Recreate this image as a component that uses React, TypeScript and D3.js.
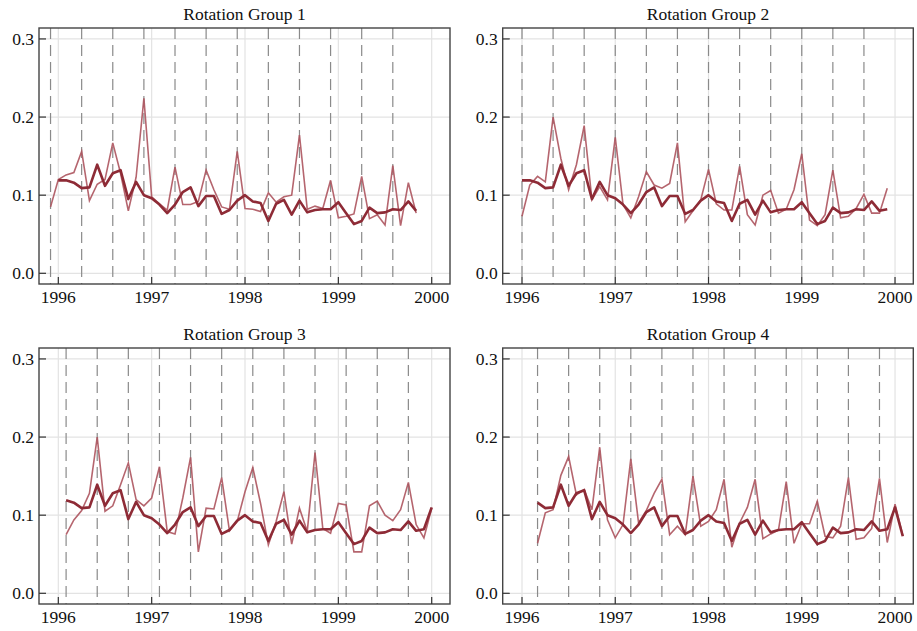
import React from 'react';
import * as d3 from 'd3';

// Months are counted from January 1996 (0 = Jan 1996, -1 = Dec 1995)
const groupNames = ['Rotation Group 1', 'Rotation Group 2', 'Rotation Group 3', 'Rotation Group 4'];
const groupStartMonth = [-1, 0, 1, 2];

// All groups combined, Jan 1996 .. Feb 2000
const allGroups = [
  0.119, 0.119, 0.116, 0.109, 0.110, 0.139, 0.112, 0.128, 0.132, 0.095, 0.117, 0.100,
  0.096, 0.088, 0.077, 0.088, 0.104, 0.110, 0.086, 0.099, 0.099, 0.076, 0.081, 0.093,
  0.100, 0.092, 0.090, 0.067, 0.089, 0.094, 0.075, 0.093, 0.078, 0.081, 0.082, 0.082,
  0.091, 0.077, 0.063, 0.067, 0.084, 0.077, 0.078, 0.082, 0.081, 0.092, 0.080, 0.082,
  0.110, 0.073,
];

// Each rotation group, 48 months from its start month
const group1 = [
  0.085, 0.120, 0.126, 0.129, 0.156, 0.093, 0.114, 0.120, 0.167, 0.128, 0.080, 0.123,
  0.224, 0.098, 0.089, 0.081, 0.136, 0.088, 0.088, 0.092, 0.132, 0.107, 0.085, 0.082,
  0.156, 0.083, 0.082, 0.079, 0.103, 0.091, 0.098, 0.100, 0.177, 0.082, 0.086, 0.083,
  0.119, 0.071, 0.073, 0.076, 0.124, 0.070, 0.075, 0.062, 0.138, 0.061, 0.116, 0.077,
];
const group2 = [
  0.073, 0.113, 0.124, 0.117, 0.200, 0.147, 0.107, 0.139, 0.189, 0.094, 0.111, 0.094,
  0.174, 0.088, 0.071, 0.098, 0.130, 0.113, 0.109, 0.115, 0.167, 0.066, 0.080, 0.094,
  0.133, 0.089, 0.081, 0.081, 0.137, 0.075, 0.062, 0.100, 0.106, 0.077, 0.082, 0.107,
  0.153, 0.068, 0.061, 0.075, 0.132, 0.071, 0.073, 0.083, 0.101, 0.077, 0.077, 0.109,
];
const group3 = [
  0.075, 0.094, 0.106, 0.128, 0.200, 0.105, 0.112, 0.139, 0.167, 0.120, 0.112, 0.122,
  0.162, 0.079, 0.076, 0.122, 0.174, 0.053, 0.109, 0.108, 0.148, 0.080, 0.092, 0.130,
  0.161, 0.115, 0.062, 0.092, 0.130, 0.063, 0.109, 0.079, 0.180, 0.083, 0.077, 0.115,
  0.113, 0.053, 0.053, 0.112, 0.118, 0.100, 0.093, 0.107, 0.142, 0.088, 0.071, 0.109,
];
const group4 = [
  0.064, 0.103, 0.107, 0.151, 0.175, 0.126, 0.133, 0.107, 0.187, 0.094, 0.071, 0.088,
  0.172, 0.090, 0.106, 0.128, 0.146, 0.075, 0.086, 0.075, 0.150, 0.086, 0.092, 0.107,
  0.146, 0.059, 0.090, 0.110, 0.146, 0.070, 0.076, 0.081, 0.143, 0.064, 0.089, 0.089,
  0.118, 0.073, 0.071, 0.086, 0.148, 0.069, 0.071, 0.083, 0.147, 0.065, 0.114, 0.074,
];
const groupValues = [group1, group2, group3, group4];

const yearTicks = [1996, 1997, 1998, 1999, 2000];
const valueTicks = [0.0, 0.1, 0.2, 0.3];

const W = 917;
const H = 631;
const font = '"Liberation Serif", "DejaVu Serif", serif';
const fontSize = 17.5;
const thickColor = '#8e2b36';
const thinColor = '#ad545e';

// plot boxes for the 2x2 grid
const frames = [
  { left: 39, right: 450, top: 28, bottom: 284 },
  { left: 502.7, right: 913.3, top: 28, bottom: 284 },
  { left: 39, right: 450, top: 348, bottom: 604 },
  { left: 502.7, right: 913.3, top: 348, bottom: 604 },
];

const toYear = (m: number) => 1996 + m / 12;

function Panel({ idx }: { idx: number }) {
  const f = frames[idx];
  const start = groupStartMonth[idx];
  const vals = groupValues[idx];

  const x = d3.scaleLinear().domain([1995.793, 2000.196]).range([f.left, f.right]);
  const y = d3.scaleLinear().domain([-0.0137, 0.314]).range([f.bottom, f.top]);

  const groupPts = vals.map((v, i) => ({ t: toYear(start + i), v }));
  const allPts = allGroups
    .map((v, i) => ({ t: toYear(i), m: i, v }))
    .filter(d => d.m >= start && d.m <= start + vals.length - 1);

  const line = d3.line<{ t: number; v: number }>().x(d => x(d.t)).y(d => y(d.v));

  // months when the group is interviewed (every 4 months)
  const dashMonths = d3.range(start, start + vals.length, 4);

  return (
    <g>
      <text x={(f.left + f.right) / 2} y={f.top - 8} textAnchor="middle"
        fontFamily={font} fontSize={fontSize} fill="#111">{groupNames[idx]}</text>

      {/* grid */}
      {valueTicks.map(v => (
        <line key={'gy' + v} x1={f.left} x2={f.right} y1={y(v)} y2={y(v)} stroke="#e3e3e3" strokeWidth={1.2} />
      ))}
      {yearTicks.map(t => (
        <line key={'gx' + t} x1={x(t)} x2={x(t)} y1={f.top} y2={f.bottom} stroke="#e3e3e3" strokeWidth={1.2} />
      ))}

      {/* dashed markers */}
      {dashMonths.map(m => (
        <line key={'d' + m} x1={x(toYear(m))} x2={x(toYear(m))} y1={f.top} y2={f.bottom}
          stroke="#8a8a8a" strokeWidth={1.2} strokeDasharray="11,6" />
      ))}

      <path d={line(groupPts) || ''} fill="none" stroke={thinColor} strokeWidth={1.6} strokeOpacity={0.9} />
      <path d={line(allPts) || ''} fill="none" stroke={thickColor} strokeWidth={2.6} strokeLinejoin="round" />

      {/* frame and ticks */}
      <rect x={f.left} y={f.top} width={f.right - f.left} height={f.bottom - f.top}
        fill="none" stroke="#444" strokeWidth={1.4} />
      {valueTicks.map(v => (
        <g key={'ty' + v}>
          <line x1={f.left} x2={f.left + 7} y1={y(v)} y2={y(v)} stroke="#333" strokeWidth={1.2} />
          <text x={f.left - 5} y={y(v)} dy="0.35em" textAnchor="end" fontFamily={font} fontSize={fontSize} fill="#111">
            {d3.format('.1f')(v)}
          </text>
        </g>
      ))}
      {yearTicks.map(t => (
        <g key={'tx' + t}>
          <line x1={x(t)} x2={x(t)} y1={f.bottom} y2={f.bottom - 7} stroke="#333" strokeWidth={1.2} />
          <text x={x(t)} y={f.bottom + 19} textAnchor="middle" fontFamily={font} fontSize={fontSize} fill="#111">
            {t}
          </text>
        </g>
      ))}
    </g>
  );
}

export default function App() {
  return (
    <svg width={W} height={H} style={{ position: 'absolute', left: 0, top: 0, background: '#fff' }}>
      {groupNames.map((_, i) => <Panel key={i} idx={i} />)}
    </svg>
  );
}
